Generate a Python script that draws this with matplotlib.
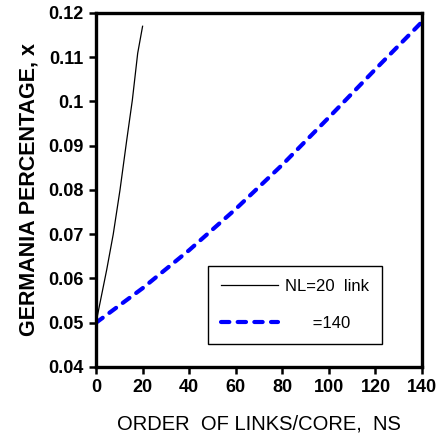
import matplotlib
matplotlib.use('Agg')
import matplotlib.pyplot as plt

plt.rcParams['font.family'] = ['Liberation Sans', 'DejaVu Sans']

# NL = 20 link (thin black line)
ns_20 = [0, 4.6, 7.4, 10.3, 13.2, 15.6, 17.9, 20]
x_20 = [0.050, 0.062, 0.070, 0.080, 0.0913, 0.1003, 0.1109, 0.117]

# NL = 140 (blue dashed line)
ns_140 = [0, 20, 40, 60, 80, 100, 120, 140]
x_140 = [0.050, 0.0578, 0.0664, 0.0757, 0.0857, 0.0964, 0.1073, 0.118]

x_ticks = [0, 20, 40, 60, 80, 100, 120, 140]
y_ticks = [0.04, 0.05, 0.06, 0.07, 0.08, 0.09, 0.1, 0.11, 0.12]
y_tick_labels = ['0.04', '0.05', '0.06', '0.07', '0.08', '0.09', '0.1', '0.11', '0.12']

fig = plt.figure(figsize=(4.37, 4.45), dpi=100)
ax = fig.add_axes([0.2197, 0.1753, 0.7460, 0.7955])

ax.plot(ns_20, x_20, color='black', linewidth=0.9, label='NL=20  link')
ax.plot(ns_140, x_140, color='#0000ff', linewidth=3.0, linestyle=(0, (2.0, 2.0)),
        dash_capstyle='round', label='      =140')

ax.set_xlim(0, 140)
ax.set_ylim(0.04, 0.12)
ax.set_xticks(x_ticks)
ax.set_yticks(y_ticks)
ax.set_yticklabels(y_tick_labels)

for sp in ax.spines.values():
    sp.set_linewidth(2.4)
ax.tick_params(axis='both', direction='out', length=5, width=1.8, labelsize=13, pad=4)
for lbl in ax.get_xticklabels() + ax.get_yticklabels():
    lbl.set_fontweight('bold')

ax.set_xlabel('ORDER  OF LINKS/CORE,  NS', fontsize=14.5, labelpad=13)
ax.set_ylabel('GERMANIA PERCENTAGE, x', fontsize=15.5, fontweight='bold', labelpad=6)

leg = ax.legend(loc='lower left', bbox_to_anchor=(0.3436, 0.065), borderaxespad=0,
                fontsize=12, handlelength=3.4, handletextpad=0.4, borderpad=0.8,
                labelspacing=1.3, fancybox=False, framealpha=1, edgecolor='black')
leg.get_frame().set_linewidth(1.0)

plt.savefig('out.png', dpi=100)
